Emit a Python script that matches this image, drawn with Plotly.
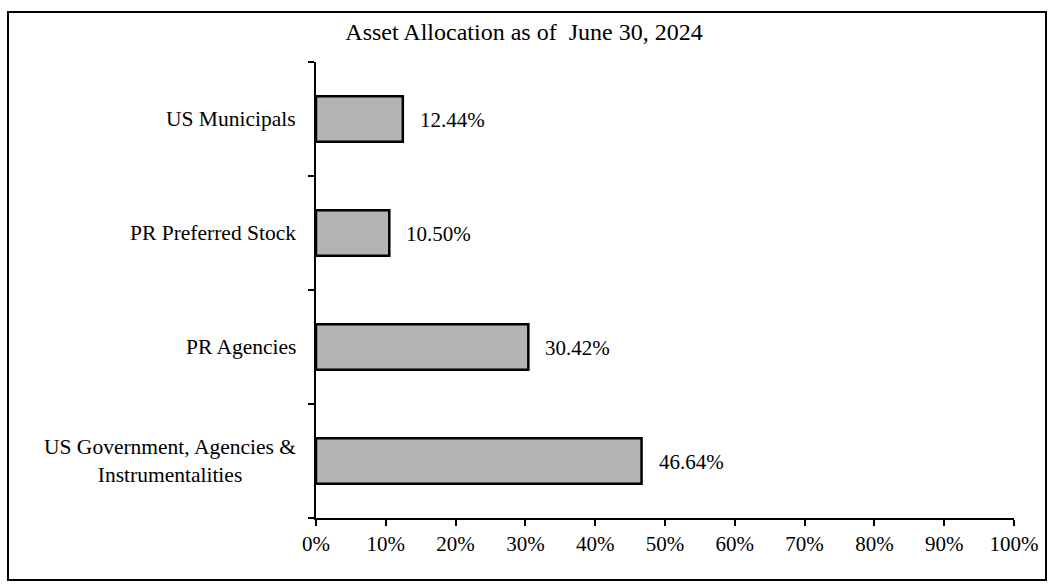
import plotly.graph_objects as go

categories = ["US Government, Agencies &<br>Instrumentalities", "PR Agencies", "PR Preferred Stock", "US Municipals"]
values = [46.64, 30.42, 10.50, 12.44]
value_labels = ["46.64%", "30.42%", "10.50%", "12.44%"]
x_ticks = [0, 10, 20, 30, 40, 50, 60, 70, 80, 90, 100]
x_tick_labels = [f"{t}%" for t in x_ticks]
title_text = "Asset Allocation as of \u00a0June 30, 2024"

FONT = "Liberation Serif, Times New Roman, serif"
FS = 21
FS_CAT = 21.5
FS_TITLE = 24

fig = go.Figure(go.Bar(
    x=values, y=categories, orientation="h",
    marker=dict(color="#b3b3b3", line=dict(color="black", width=2.5)),
    width=0.4,
    hoverinfo="skip",
))

annotations = []
for c, v, lab in zip(categories, values, value_labels):
    annotations.append(dict(x=v, y=c, xref="x", yref="y", text=lab, showarrow=False,
                            xanchor="left", xshift=15, yshift=-1, font=dict(family=FONT, size=FS, color="black")))
    annotations.append(dict(x=0, y=c, xref="paper", yref="y", text=c, showarrow=False,
                            xanchor="right", align="center", xshift=-18,
                            font=dict(family=FONT, size=FS_CAT, color="black")))

fig.update_layout(
    width=1054, height=584,
    margin=dict(l=316, r=40, t=62, b=66),
    paper_bgcolor="white", plot_bgcolor="white",
    showlegend=False,
    title=dict(text=title_text, x=(524 - 316) / 698, xref="paper", xanchor="center",
               y=1 - 32 / 584, yanchor="middle", font=dict(family=FONT, size=FS_TITLE, color="black")),
    font=dict(family=FONT, size=FS, color="black"),
    annotations=annotations,
    xaxis=dict(range=[0, 100], tickvals=x_ticks, ticktext=x_tick_labels, showgrid=False,
               zeroline=False, showline=True, linecolor="black", linewidth=1.5,
               ticks="outside", ticklen=6, tickcolor="black", tickwidth=1.5,
               tickfont=dict(family=FONT, size=FS, color="black"), fixedrange=True),
    yaxis=dict(type="category", categoryorder="array", categoryarray=categories,
               range=[-0.5, 3.5], showticklabels=False, showgrid=False, zeroline=False,
               showline=True, linecolor="black", linewidth=1.5,
               ticks="outside", tickson="boundaries", ticklen=6, tickcolor="black", tickwidth=1.5,
               fixedrange=True),
    shapes=[dict(type="rect", xref="paper", yref="paper",
                 x0=(8 - 316) / 698, x1=(1046 - 316) / 698,
                 y0=(518 - 580) / 456, y1=(518 - 12) / 456,
                 line=dict(color="black", width=2), fillcolor="rgba(0,0,0,0)", layer="below")],
)

fig.write_html("out.html", config={"displayModeBar": False},
               post_script="document.body.style.margin='0';document.body.style.padding='0';")
